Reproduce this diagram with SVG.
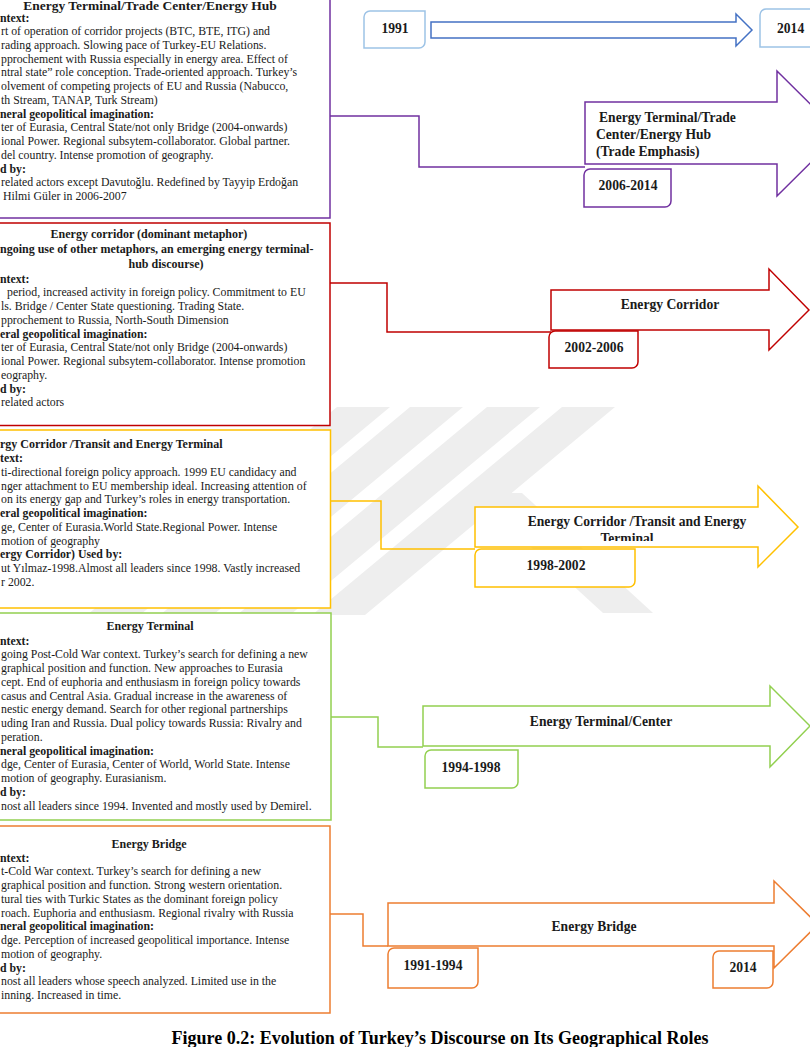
<svg xmlns="http://www.w3.org/2000/svg" width="810" height="1047" viewBox="0 0 810 1047">
  <style>
    .box { fill: #ffffff; stroke-width: 1.5; }
    .arrow { fill: #ffffff; stroke-width: 1.5; stroke-linejoin: miter; }
    .conn { fill: none; stroke-width: 1.5; }
    .date { fill: #ffffff; stroke-width: 1.5; }
    .t { font-family: "Liberation Serif", "Times New Roman", serif; font-size: 11.8px; fill: #1a1a1a; }
    .b { font-weight: bold; }
    .ttl { font-family: "Liberation Serif", "Times New Roman", serif; font-size: 12px; font-weight: bold; fill: #1a1a1a; }
    .lbl { font-family: "Liberation Serif", "Times New Roman", serif; font-size: 13.6px; font-weight: bold; fill: #1a1a1a; }
    .mid { text-anchor: middle; }
    .cap { font-family: "Liberation Serif", "Times New Roman", serif; font-size: 18px; font-weight: bold; fill: #000000; text-anchor: middle; }
    .wm { fill: #eeeeee; }
    .purple { stroke: #7030a0; }
    .red { stroke: #c00000; }
    .gold { stroke: #ffc000; }
    .green { stroke: #92d050; }
    .orange { stroke: #ed7d31; }
    .blue { stroke: #4472c4; }
    .lblue { stroke: #9dc3e6; }
  </style>
  <defs>
    <clipPath id="clipYellowLabel">
      <rect x="476" y="508" width="281" height="33"/>
    </clipPath>
  </defs>

  <rect x="0" y="0" width="810" height="1047" fill="#ffffff"/>

  <!-- faint background emblem -->
  <g id="watermark">
    <polygon class="wm" points="337,407 390,407 140,615 87,615"/>
    <polygon class="wm" points="410,407 463,407 213,615 160,615"/>
    <polygon class="wm" points="487,407 540,407 290,615 237,615"/>
    <polygon class="wm" points="562,407 615,407 365,615 312,615"/>
    <polygon class="wm" points="472,493 522,493 653,613 603,613"/>
  </g>

  <!-- period description boxes -->
  <g id="box-hub">
    <rect class="box purple" x="-10" y="-10" width="340" height="228"/>
    <text class="ttl mid" x="150" y="10" style="font-size:13.5px">Energy Terminal/Trade Center/Energy Hub</text>
    <text class="t b" x="0" y="22">ntext:</text>
    <text class="t" x="1" y="35">rt of operation of corridor projects (BTC, BTE, ITG) and</text>
    <text class="t" x="1" y="48.75">rading approach. Slowing pace of Turkey-EU Relations.</text>
    <text class="t" x="1" y="62.5">pprochement with Russia especially in energy area. Effect of</text>
    <text class="t" x="1" y="76.25">ntral state” role conception. Trade-oriented approach.  Turkey’s</text>
    <text class="t" x="1" y="90">olvement of competing projects of EU and Russia (Nabucco,</text>
    <text class="t" x="1" y="103.75">th Stream, TANAP, Turk Stream)</text>
    <text class="t b" x="0" y="117.5">neral geopolitical imagination:</text>
    <text class="t" x="1" y="131.25">ter of Eurasia, Central State/not only Bridge (2004-onwards)</text>
    <text class="t" x="1" y="145">ional Power. Regional subsytem-collaborator. Global partner.</text>
    <text class="t" x="1" y="158.75">del country. Intense promotion of geography.</text>
    <text class="t b" x="0" y="172.5">d by:</text>
    <text class="t" x="1" y="186.25">related actors except Davutoğlu. Redefined by Tayyip Erdoğan</text>
    <text class="t" x="3" y="200">Hilmi Güler in 2006-2007</text>
  </g>

  <g id="box-corridor">
    <rect class="box red" x="-10" y="223" width="340" height="202.5"/>
    <text class="ttl mid" x="149" y="238">Energy corridor (dominant metaphor)</text>
    <text class="ttl" x="0" y="253">ngoing use of other metaphors, an emerging energy terminal-</text>
    <text class="ttl mid" x="166" y="268">hub discourse)</text>
    <text class="t b" x="0" y="282.5">ntext:</text>
    <text class="t" x="7" y="296.25">period, increased activity in foreign policy. Commitment to EU</text>
    <text class="t" x="1" y="310">ls. Bridge / Center State questioning. Trading State.</text>
    <text class="t" x="1" y="323.75">pprochement to Russia, North-South Dimension</text>
    <text class="t b" x="0" y="337.5">eral geopolitical imagination:</text>
    <text class="t" x="1" y="351.25">ter of Eurasia, Central State/not only Bridge (2004-onwards)</text>
    <text class="t" x="1" y="365">ional Power. Regional subsytem-collaborator. Intense promotion</text>
    <text class="t" x="1" y="378.75">eography.</text>
    <text class="t b" x="0" y="392.5">d by:</text>
    <text class="t" x="1" y="406.25">related actors</text>
  </g>

  <g id="box-transit">
    <rect class="box gold" x="-10" y="430" width="340.5" height="178"/>
    <text class="ttl" x="0" y="448">rgy Corridor /Transit and Energy Terminal</text>
    <text class="t b" x="0" y="462">text:</text>
    <text class="t" x="1" y="475.75">ti-directional foreign policy approach. 1999 EU candidacy and</text>
    <text class="t" x="1" y="489.5">nger attachment to EU membership ideal. Increasing attention of</text>
    <text class="t" x="1" y="503.25">on its energy gap and Turkey’s roles in energy transportation.</text>
    <text class="t b" x="0" y="517">eral geopolitical imagination:</text>
    <text class="t" x="1" y="530.75">ge, Center of Eurasia.World State.Regional Power. Intense</text>
    <text class="t" x="1" y="544.5">motion of geography</text>
    <text class="t b" x="0" y="558.25">ergy Corridor) Used by:</text>
    <text class="t" x="1" y="572">ut Yılmaz-1998.Almost all leaders since 1998. Vastly increased</text>
    <text class="t" x="1" y="585.75">r 2002.</text>
  </g>

  <g id="box-terminal">
    <rect class="box green" x="-10" y="613" width="341" height="207"/>
    <text class="ttl mid" x="150" y="630">Energy Terminal</text>
    <text class="t b" x="0" y="644.5">ntext:</text>
    <text class="t" x="1" y="658.25">going Post-Cold War context. Turkey’s search for defining a new</text>
    <text class="t" x="1" y="672">graphical position and function.  New approaches to Eurasia</text>
    <text class="t" x="1" y="685.75">cept. End of euphoria and enthusiasm in foreign policy towards</text>
    <text class="t" x="1" y="699.5">casus and Central Asia.  Gradual increase in the awareness of</text>
    <text class="t" x="1" y="713.25">nestic energy demand. Search for other regional partnerships</text>
    <text class="t" x="1" y="727">uding Iran and Russia. Dual policy towards Russia: Rivalry and</text>
    <text class="t" x="1" y="740.75">peration.</text>
    <text class="t b" x="0" y="754.5">neral geopolitical imagination:</text>
    <text class="t" x="1" y="768.25">dge, Center of Eurasia, Center of World, World State. Intense</text>
    <text class="t" x="1" y="782">motion of geography. Eurasianism.</text>
    <text class="t b" x="0" y="795.75">d by:</text>
    <text class="t" x="1" y="809.5">nost all leaders since 1994. Invented and mostly used by Demirel.</text>
  </g>

  <g id="box-bridge">
    <rect class="box orange" x="-10" y="826" width="340" height="187"/>
    <text class="ttl mid" x="149" y="848">Energy Bridge</text>
    <text class="t b" x="0" y="861.5">ntext:</text>
    <text class="t" x="1" y="875.25">t-Cold War context. Turkey’s search for defining a new</text>
    <text class="t" x="1" y="889">graphical position and function. Strong western orientation.</text>
    <text class="t" x="1" y="902.75">tural ties with Turkic States as the dominant foreign policy</text>
    <text class="t" x="1" y="916.5">roach. Euphoria and enthusiasm. Regional rivalry with Russia</text>
    <text class="t b" x="0" y="930.25">neral geopolitical imagination:</text>
    <text class="t" x="1" y="944">dge. Perception of increased geopolitical importance. Intense</text>
    <text class="t" x="1" y="957.75">motion of geography.</text>
    <text class="t b" x="0" y="971.5">d by:</text>
    <text class="t" x="1" y="985.25">nost all leaders whose speech analyzed. Limited use in the</text>
    <text class="t" x="1" y="999">inning. Increased in time.</text>
  </g>

  <!-- elbow connectors from boxes to period arrows -->
  <g id="connectors">
    <polyline class="conn purple" points="330,116 419,116 419,167 585,167"/>
    <polyline class="conn red" points="330,283 387,283 387,332 551,332"/>
    <polyline class="conn gold" points="330.5,501 381,501 381,549 475,549"/>
    <polyline class="conn green" points="331,717 378,717 378,747 423,747"/>
    <polyline class="conn orange" points="330,914 363,914 363,946 388,946"/>
  </g>

  <!-- overall timeline -->
  <g id="timeline">
    <polygon class="arrow blue" points="431,22 736,22 736,14 752,30 736,46 736,38 431,38"/>
  </g>
  <g id="start-1991">
    <path class="date lblue" d="M364,17 A6,6 0 0 1 370,11 H425 V42 A6,6 0 0 1 419,48 H364 Z"/>
    <text class="lbl mid" x="395" y="33">1991</text>
  </g>
  <g id="end-2014">
    <path class="date lblue" d="M760,15 A6,6 0 0 1 766,9 H818 V47 H760 Z"/>
    <text class="lbl" x="777" y="33">2014</text>
  </g>

  <!-- period arrows -->
  <g id="arrow-hub">
    <polygon class="arrow purple" points="585,102 777,102 777,71 840,133.5 777,196 777,164 585,164"/>
    <text class="lbl" x="599" y="121.5"> Energy Terminal/Trade</text>
    <text class="lbl" x="596" y="138.5">Center/Energy Hub</text>
    <text class="lbl" x="596" y="155.5">(Trade Emphasis)</text>
  </g>
  <g id="date-hub">
    <path class="date purple" d="M584,175 A6,6 0 0 1 590,169 H671 V201 A6,6 0 0 1 665,207 H584 Z"/>
    <text class="lbl mid" x="628" y="189.5">2006-2014</text>
  </g>

  <g id="arrow-corridor">
    <polygon class="arrow red" points="551,290 769,290 769,269 809,310 769,350 769,330 551,330"/>
    <text class="lbl mid" x="670" y="308.5">Energy Corridor</text>
  </g>
  <g id="date-corridor">
    <path class="date red" d="M549,337 A6,6 0 0 1 555,331 H638 V362 A6,6 0 0 1 632,368 H549 Z"/>
    <text class="lbl mid" x="594" y="351.5">2002-2006</text>
  </g>

  <g id="arrow-transit">
    <polygon class="arrow gold" points="475,507 758,507 758,486 798,527 758,567 758,547 475,547"/>
    <g clip-path="url(#clipYellowLabel)">
      <text class="lbl mid" x="637" y="525.5">Energy Corridor /Transit and Energy</text>
      <text class="lbl mid" x="627" y="543">Terminal</text>
    </g>
  </g>
  <g id="date-transit">
    <path class="date gold" d="M475,555 A6,6 0 0 1 481,549 H635 V581 A6,6 0 0 1 629,587 H475 Z"/>
    <text class="lbl mid" x="556" y="569.5">1998-2002</text>
  </g>

  <g id="arrow-terminal">
    <polygon class="arrow green" points="423,706 770,706 770,686 810,726 770,767 770,746 423,746"/>
    <text class="lbl mid" x="601" y="725.5">Energy Terminal/Center</text>
  </g>
  <g id="date-terminal">
    <path class="date green" d="M425,756 A6,6 0 0 1 431,750 H518 V782 A6,6 0 0 1 512,788 H425 Z"/>
    <text class="lbl mid" x="471" y="771.5">1994-1998</text>
  </g>

  <g id="arrow-bridge">
    <polygon class="arrow orange" points="388,903 774,903 774,881 818,924.5 774,968 774,946 388,946"/>
    <text class="lbl mid" x="594" y="930.5">Energy Bridge</text>
  </g>
  <g id="date-bridge">
    <path class="date orange" d="M388,954 A6,6 0 0 1 394,948 H478 V982 A6,6 0 0 1 472,988 H388 Z"/>
    <text class="lbl mid" x="433" y="969.5">1991-1994</text>
  </g>
  <g id="date-bridge-end">
    <path class="date orange" d="M713,957 A6,6 0 0 1 719,951 H773 V982 A6,6 0 0 1 767,988 H713 Z"/>
    <text class="lbl mid" x="743" y="971.5">2014</text>
  </g>

  <text class="cap" x="440" y="1044">Figure 0.2: Evolution of Turkey’s Discourse on Its Geographical Roles</text>
</svg>
